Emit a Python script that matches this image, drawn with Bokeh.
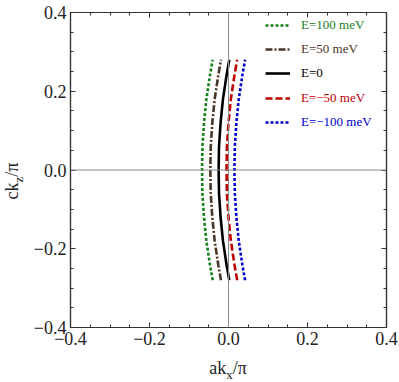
from bokeh.plotting import figure
from bokeh.models import (LinearAxis, FixedTicker, CustomJSTickFormatter, Span,
                          Legend, LegendItem, Range1d, Div)
from bokeh.layouts import row, column
from bokeh.embed import file_html
from bokeh.resources import INLINE

# ---- data ----
kz = [-0.28, -0.24, -0.18, -0.12, -0.06, 0.0, 0.06, 0.12, 0.18, 0.24, 0.28]
kx_e100 = [-0.040, -0.047, -0.056, -0.062, -0.066, -0.067, -0.066, -0.062, -0.056, -0.047, -0.040]
kx_e50 = [-0.019, -0.026, -0.035, -0.041, -0.045, -0.046, -0.045, -0.041, -0.035, -0.026, -0.019]
kx_e0 = [0.002, -0.005, -0.014, -0.020, -0.024, -0.025, -0.024, -0.020, -0.014, -0.005, 0.002]
kx_em50 = [0.022, 0.015, 0.006, 0.000, -0.004, -0.005, -0.004, 0.000, 0.006, 0.015, 0.022]
kx_em100 = [0.042, 0.035, 0.026, 0.020, 0.016, 0.015, 0.016, 0.020, 0.026, 0.035, 0.042]

labels = ["E=100 meV", "E=50 meV", "E=0", "E=\u221250 meV", "E=\u2212100 meV"]
series = [kx_e100, kx_e50, kx_e0, kx_em50, kx_em100]
colors = ["#16801a", "#4a3626", "#000000", "#c00000", "#0000cc"]
dashes = ["3 2", "7 2 2 2", "solid", "7 3", "3 2"]
widths = [2.6, 2.6, 2.6, 2.6, 2.6]

major_ticks = [-0.4, -0.2, 0.0, 0.2, 0.4]
minor_ticks = [-0.35, -0.3, -0.25, -0.15, -0.1, -0.05, 0.05, 0.1, 0.15, 0.25, 0.3, 0.35]

FONT = "Liberation Serif"
AX = "#333333"

p = figure(width=368, height=354, output_backend="svg", toolbar_location=None,
           x_range=Range1d(-0.4, 0.4), y_range=Range1d(-0.4, 0.4),
           x_axis_location=None, y_axis_location=None,
           min_border_left=40, min_border_right=12, min_border_top=12, min_border_bottom=27)
p.grid.visible = False
p.outline_line_color = AX
p.outline_line_width = 1.2

fmt = CustomJSTickFormatter(code="return tick.toFixed(1).replace('-', '\\u2212');")

def make_axis(show_labels):
    ax = LinearAxis(ticker=FixedTicker(ticks=major_ticks, minor_ticks=minor_ticks),
                    formatter=fmt)
    ax.axis_line_color = AX
    ax.axis_line_width = 1.2
    ax.major_tick_line_color = AX
    ax.minor_tick_line_color = AX
    ax.major_tick_in = 5
    ax.major_tick_out = 0
    ax.minor_tick_in = 3
    ax.minor_tick_out = 0
    if show_labels:
        ax.major_label_text_font = FONT
        ax.major_label_text_font_size = "18px"
        ax.major_label_text_color = "#222222"
        ax.major_label_standoff = 4
    else:
        ax.major_label_text_font_size = "1px"
        ax.major_label_text_color = None
        ax.major_label_standoff = 0
    return ax

p.add_layout(make_axis(True), "left")
p.add_layout(make_axis(True), "below")
p.add_layout(make_axis(False), "above")
p.add_layout(make_axis(False), "right")

p.add_layout(Span(location=0, dimension="width", line_color="#8a8a8a", line_width=1))
p.add_layout(Span(location=0, dimension="height", line_color="#8a8a8a", line_width=1))

renderers = []
for xs, c, d, w in zip(series, colors, dashes, widths):
    r = p.line(xs, kz, line_color=c, line_dash=d, line_width=w)
    renderers.append(r)

# one legend per entry so each label gets its own colour
for i, (lab, r, c) in enumerate(zip(labels, renderers, colors)):
    lg = Legend(items=[LegendItem(label=lab, renderers=[r])],
                location=(195, 294 - i * 24.2),
                background_fill_alpha=0, border_line_color=None,
                label_text_font=FONT, label_text_font_size="13px",
                label_text_color=c, glyph_width=25, glyph_height=16,
                label_standoff=11, padding=0, margin=0, spacing=0)
    p.add_layout(lg)

TXT = "font-family:'Liberation Serif';font-size:18px;color:#222222;white-space:nowrap;line-height:1;"

def wrap(left, top, inner, rot):
    tr = "translate(-50%,-50%)" + (" rotate(-90deg)" if rot else "")
    return ('<div style="position:relative;width:0;height:0;overflow:visible;left:%dpx;top:%dpx;">'
            '<div style="position:absolute;left:0;top:0;transform:%s;%s">%s</div></div>'
            % (left, top, tr, TXT, inner))

ylab = Div(text=wrap(14, 169, 'ck<sub style="font-size:13px">z</sub>/\u03c0', True),
           width=30, height=380, margin=0)
xlab = Div(text=wrap(198, 4, 'ak<sub style="font-size:13px">x</sub>/\u03c0', False),
           width=368, height=26, margin=0)

layout = row(ylab, column(p, xlab))
open("out.html", "w").write(file_html(layout, INLINE))
